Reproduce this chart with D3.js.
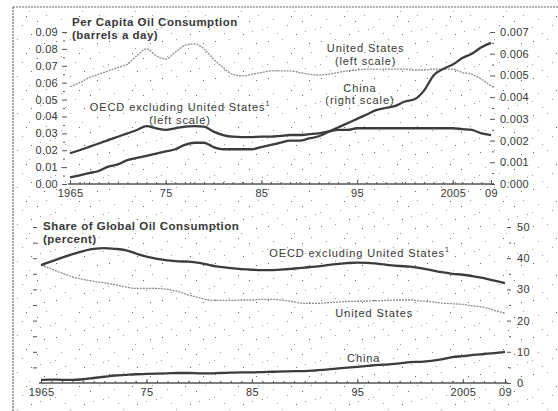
<!DOCTYPE html>
<meta charset="utf-8">
<title>Oil consumption</title>
<style>
    body { margin: 0; background: #fff; }
    svg { display: block; }
    text {
        font-family: "Liberation Sans", Arial, sans-serif;
        fill: #383838;
    }
    .axis text { font-size: 11px; letter-spacing: 0.3px; }
    .axis line { stroke: #555; }
    .axis path { display: none; }
    .title { font-size: 11.5px; font-weight: bold; letter-spacing: 0.5px; }
    .note { font-size: 11px; letter-spacing: 0.9px; }
</style>
<svg width="558" height="411"></svg>
<script src="https://d3js.org/d3.v7.min.js"></script>
<script>

    // ---- data ----
    var years = d3.range(1965, 2010);

    // per capita, barrels a day
    var usPerCapita = [0.0576, 0.060, 0.063, 0.065, 0.067, 0.069, 0.071, 0.076, 0.080, 0.076,
        0.074, 0.078, 0.082, 0.083, 0.080, 0.074, 0.069, 0.065, 0.064, 0.065,
        0.066, 0.067, 0.067, 0.067, 0.066, 0.065, 0.0645, 0.065, 0.066, 0.067,
        0.0675, 0.068, 0.068, 0.068, 0.068, 0.068, 0.0675, 0.0675, 0.068, 0.068,
        0.068, 0.066, 0.065, 0.062, 0.058];
    var oecdPerCapita = [0.0182, 0.020, 0.022, 0.024, 0.026, 0.028, 0.030, 0.032, 0.0343, 0.033,
        0.032, 0.033, 0.034, 0.0343, 0.034, 0.031, 0.029, 0.028, 0.0278, 0.0278,
        0.028, 0.028, 0.0285, 0.029, 0.029, 0.0295, 0.030, 0.031, 0.032, 0.032,
        0.033, 0.033, 0.033, 0.033, 0.033, 0.033, 0.033, 0.033, 0.033, 0.033,
        0.033, 0.0325, 0.032, 0.030, 0.029];
    var chinaPerCapita = [0.0003, 0.0004, 0.0005, 0.0006, 0.0008, 0.0009, 0.0011, 0.0012, 0.0013, 0.0014,
        0.0015, 0.0016, 0.0018, 0.0019, 0.0019, 0.0017, 0.0016, 0.0016, 0.0016, 0.0016,
        0.0017, 0.0018, 0.0019, 0.0020, 0.0020, 0.0021, 0.0022, 0.0024, 0.0026, 0.0028,
        0.0030, 0.0032, 0.0034, 0.0035, 0.0036, 0.0038, 0.0039, 0.0043, 0.0050, 0.0053,
        0.0055, 0.0058, 0.0060, 0.0063, 0.0065];

    // share of global consumption, percent
    var oecdShare = [37.8, 39.0, 40.2, 41.3, 42.3, 43.0, 43.2, 43.0, 42.6, 41.5,
        40.5, 39.8, 39.3, 39.0, 38.9, 38.5, 37.8, 37.2, 36.8, 36.5,
        36.3, 36.2, 36.2, 36.4, 36.7, 37.0, 37.3, 37.7, 38.1, 38.4,
        38.6, 38.5, 38.2, 37.8, 37.5, 37.3, 36.8, 36.2, 35.5, 35.0,
        34.7, 34.2, 33.6, 32.8, 32.0];
    var usShare = [37.8, 36.5, 35.2, 34.0, 33.2, 32.6, 32.1, 31.5, 30.8, 30.3,
        30.3, 30.3, 30.0, 29.3, 28.2, 27.3, 26.6, 26.5, 26.5, 26.6,
        26.6, 26.8, 26.8, 26.5, 26.0, 25.5, 25.5, 25.7, 25.9, 26.1,
        26.2, 26.3, 26.4, 26.5, 26.6, 26.6, 26.3, 26.0, 25.6, 25.4,
        25.2, 24.7, 24.3, 23.3, 22.3];
    var chinaShare = [1.0, 1.1, 1.0, 1.0, 1.2, 1.6, 2.0, 2.4, 2.6, 2.8,
        2.9, 3.0, 3.1, 3.2, 3.2, 3.1, 3.1, 3.2, 3.3, 3.4,
        3.4, 3.5, 3.6, 3.7, 3.8, 3.8, 4.0, 4.3, 4.6, 4.9,
        5.2, 5.5, 5.8, 6.0, 6.3, 6.7, 6.8, 7.1, 7.6, 8.3,
        8.6, 9.0, 9.3, 9.6, 10.0];

    var xTickYears = [1965, 1975, 1985, 1995, 2005, 2009];
    var xTickLabels = ["1965", "75", "85", "95", "2005", "09"];

    var svg = d3.select("svg");

    // speckled scan background (fixed tile)
    var pat = svg.append("defs").append("pattern")
        .attr("id", "speck")
        .attr("width", 53).attr("height", 37)
        .attr("patternUnits", "userSpaceOnUse");
    [[3, 4], [17, 2], [29, 11], [44, 6], [8, 19], [22, 25], [37, 21], [50, 29],
     [12, 33], [31, 34], [46, 15], [2, 27], [26, 16], [40, 31]].forEach(function (p, i) {
        pat.append("rect").attr("x", p[0]).attr("y", p[1])
            .attr("width", 1).attr("height", 1)
            .attr("fill", i % 3 ? "#999" : "#666");
    });
    svg.append("rect").attr("width", 558).attr("height", 411).attr("fill", "#fff");
    svg.append("rect").attr("x", 13).attr("y", 7).attr("width", 545).attr("height", 404)
        .attr("fill", "url(#speck)");

    // frame (cropped scan)
    svg.append("line").attr("x1", 13).attr("x2", 558).attr("y1", 7).attr("y2", 7)
        .attr("stroke", "#666").attr("stroke-width", 1.2).attr("stroke-dasharray", "2,1");
    svg.append("line").attr("x1", 13).attr("x2", 13).attr("y1", 7).attr("y2", 411)
        .attr("stroke", "#666").attr("stroke-width", 1.2).attr("stroke-dasharray", "2,1");

    // ---- scales ----
    var xTop = d3.scaleLinear().domain([1965, 2009]).range([70, 491]);
    var yLeft = d3.scaleLinear().domain([0, 0.09]).range([184, 32]);
    var yRight = d3.scaleLinear().domain([0, 0.007]).range([184, 32]);

    var xBot = d3.scaleLinear().domain([1965, 2009]).range([41, 505]);
    var yBot = d3.scaleLinear().domain([0, 50]).range([383, 227]);

    function series(vals) {
        return years.map(function (y, i) { return { year: y, v: vals[i] }; });
    }

    function drawLine(x, y, vals, dark) {
        var line = d3.line()
            .x(function (d) { return x(d.year); })
            .y(function (d) { return y(d.v); })
            .curve(d3.curveMonotoneX);
        svg.append("path")
            .datum(series(vals))
            .attr("fill", "none")
            .attr("stroke", dark ? "#3c3c3c" : "#8e8e8e")
            .attr("stroke-width", dark ? 2.3 : 1.3)
            .attr("stroke-dasharray", dark ? null : "2,1")
            .attr("d", line);
    }

    function xAxis(x, yPos) {
        var g = svg.append("g").attr("class", "axis")
            .attr("transform", "translate(0," + yPos + ")");
        g.append("line")
            .attr("x1", x.range()[0] - 2).attr("x2", x.range()[1] + 3)
            .attr("stroke", "#444").attr("stroke-width", 1.6);
        g.call(d3.axisBottom(x).tickValues(years).tickSize(-2).tickFormat(""));
        svg.append("g").attr("class", "axis")
            .attr("transform", "translate(0," + yPos + ")")
            .call(d3.axisBottom(x).tickValues(xTickYears).tickSize(-4).tickPadding(5)
                .tickFormat(function (d, i) { return xTickLabels[i]; }));
    }

    function yAxis(axis, xPos) {
        svg.append("g").attr("class", "axis")
            .attr("transform", "translate(" + xPos + ",0)")
            .call(axis);
    }

    // multi-line annotation, first baseline at (x, y), 12px line gap
    function note(x, y, lines, sup) {
        lines.forEach(function (s, i) {
            var t = svg.append("text").attr("class", "note")
                .attr("x", x).attr("y", y + i * 12.5)
                .attr("text-anchor", "middle").text(s);
            if (sup && i === 0) t.append("tspan").attr("dy", -5).attr("font-size", "7px").text(sup);
        });
    }

    // ---- top panel ----
    yAxis(d3.axisLeft(yLeft).tickValues(d3.range(0, 0.0901, 0.01))
        .tickFormat(d3.format(".2f")).tickSize(5).tickPadding(4), 67);
    yAxis(d3.axisLeft(yLeft).tickValues(d3.range(0.005, 0.09, 0.01))
        .tickFormat("").tickSize(2), 65);
    yAxis(d3.axisRight(yRight).tickValues(d3.range(0, 0.00701, 0.001))
        .tickFormat(d3.format(".3f")).tickSize(5).tickPadding(5), 490);
    yAxis(d3.axisRight(yRight).tickValues(d3.range(0.0005, 0.007, 0.001))
        .tickFormat("").tickSize(2), 492);

    xAxis(xTop, 184);

    drawLine(xTop, yLeft, usPerCapita, false);
    drawLine(xTop, yLeft, oecdPerCapita, true);
    drawLine(xTop, yRight, chinaPerCapita, true);

    svg.append("text").attr("class", "title").attr("x", 72).attr("y", 26)
        .text("Per Capita Oil Consumption");
    svg.append("text").attr("class", "title").attr("x", 72).attr("y", 39)
        .text("(barrels a day)");

    note(xTop(1976.5), yLeft(0.0430), ["OECD excluding United States", "(left scale)"], "1");
    note(xTop(1995.9), yLeft(0.0780), ["United States", "(left scale)"]);
    note(xTop(1995.3), yLeft(0.0545), ["China", "(right scale)"]);

    // ---- bottom panel ----
    yAxis(d3.axisLeft(yBot).tickValues(d3.range(5, 51, 5))
        .tickFormat("").tickSize(4), 37);
    yAxis(d3.axisRight(yBot).tickValues(d3.range(0, 51, 10))
        .tickFormat(d3.format("d")).tickSize(4).tickPadding(6), 507);
    yAxis(d3.axisRight(yBot).tickValues(d3.range(5, 50, 10))
        .tickFormat("").tickSize(2), 509);

    xAxis(xBot, 383);

    drawLine(xBot, yBot, usShare, false);
    drawLine(xBot, yBot, oecdShare, true);
    drawLine(xBot, yBot, chinaShare, true);

    svg.append("text").attr("class", "title").attr("x", 43).attr("y", 230)
        .text("Share of Global Oil Consumption");
    svg.append("text").attr("class", "title").attr("x", 43).attr("y", 243)
        .text("(percent)");

    note(xBot(1995.2), yBot(40.4), ["OECD excluding United States"], "1");
    note(xBot(1996.6), yBot(21.2), ["United States"]);
    note(xBot(1995.6), yBot(6.7), ["China"]);

</script>
